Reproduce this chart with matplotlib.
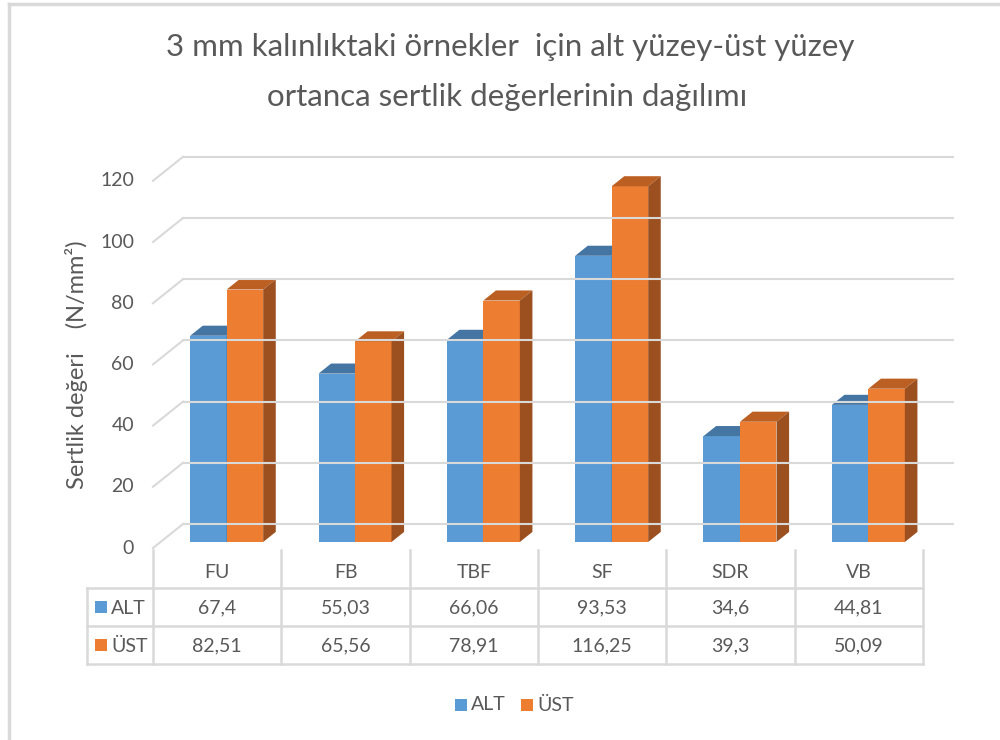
import matplotlib.pyplot as plt
from matplotlib.patches import Polygon, Rectangle
from matplotlib.lines import Line2D

plt.rcParams["font.family"] = ["Lato", "DejaVu Sans"]

# ── Data ──────────────────────────────────────────────────────────────────────
categories = ["FU", "FB", "TBF", "SF", "SDR", "VB"]
alt_values = [67.4, 55.03, 66.06, 93.53, 34.6, 44.81]
ust_values = [82.51, 65.56, 78.91, 116.25, 39.3, 50.09]
alt_labels = ["67,4", "55,03", "66,06", "93,53", "34,6", "44,81"]
ust_labels = ["82,51", "65,56", "78,91", "116,25", "39,3", "50,09"]
series_names = ["ALT", "ÜST"]
y_ticks = [0, 20, 40, 60, 80, 100, 120]

TEXT = "#595959"
GRID = "#d9d9d9"
BLUE = ("#5b9bd5", "#4575a3", "#3e6b96")     # front, top, side
ORANGE = ("#ed7d31", "#bb5f22", "#9c5020")
FS = 14

# ── Figure / axes (pixel-ish layout for 1000x740 @ 100 dpi) ──────────────────
W, H = 1000, 740
fig = plt.figure(figsize=(W / 100, H / 100), dpi=100, facecolor="white")

ax_left, ax_right = 153, 923          # front plane, px
ax_bottom, ax_top = 548, 140          # value 0 at 548 px
px_per_unit = 3.06
ymax = (ax_bottom - ax_top) / px_per_unit
ax = fig.add_axes([ax_left / W, 1 - ax_bottom / H,
                   (ax_right - ax_left) / W, (ax_bottom - ax_top) / H])
ax.set_xlim(-0.5, len(categories) - 0.5)
ax.set_ylim(0, ymax)
ax.axis("off")

col_w = (ax_right - ax_left) / len(categories)
DX = 30 / col_w                 # full depth offset, category units
DY = 24 / px_per_unit           # full depth offset, value units

# gridlines: floor diagonal + back wall line, tick labels on the front edge
for v in y_ticks:
    ax.add_line(Line2D([-0.5, -0.5 + DX], [v, v + DY], color=GRID, lw=1.5,
                       clip_on=False))
    ax.add_line(Line2D([-0.5 + DX, len(categories) - 0.5 + DX], [v + DY, v + DY],
                       color=GRID, lw=1.5, clip_on=False))
    ax.text(-0.5 - 19 / col_w, v, str(v), ha="right", va="center",
            fontsize=FS, color=TEXT)


def bar3d(x0, width, value, colors, d0=0.25, d1=0.67):
    ox, oy = d0 * DX, d0 * DY
    bx, by = (d1 - d0) * DX, (d1 - d0) * DY
    xa, xb = x0 + ox, x0 + width + ox
    ya, yb = oy, value + oy
    front = Polygon([(xa, ya), (xb, ya), (xb, yb), (xa, yb)], closed=True,
                    fc=colors[0], ec="none", clip_on=False)
    top = Polygon([(xa, yb), (xb, yb), (xb + bx, yb + by), (xa + bx, yb + by)],
                  closed=True, fc=colors[1], ec="none", clip_on=False)
    side = Polygon([(xb, ya), (xb + bx, ya + by), (xb + bx, yb + by), (xb, yb)],
                   closed=True, fc=colors[2], ec="none", clip_on=False)
    for p in (front, top, side):
        ax.add_patch(p)


bw = 36.5 / col_w
for i in range(len(categories)):
    bar3d(i - bw + 2 / col_w, bw, alt_values[i], BLUE)
    bar3d(i + 2 / col_w, bw, ust_values[i], ORANGE)

# ── Data table (figure pixel coordinates) ────────────────────────────────────
def fx(px):
    return px / W


def fy(py):
    return 1 - py / H


def hline(x0, x1, y):
    fig.add_artist(Line2D([fx(x0), fx(x1)], [fy(y), fy(y)], color=GRID, lw=1.8))


def vline(x, y0, y1):
    fig.add_artist(Line2D([fx(x), fx(x)], [fy(y0), fy(y1)], color=GRID, lw=1.8))


tbl_left = 87
row_y = [550, 588, 626, 664]
for y in row_y[1:]:
    hline(tbl_left, ax_right, y)
vline(tbl_left, row_y[1], row_y[3])
for i in range(len(categories) + 1):
    vline(ax_left + i * col_w, row_y[0], row_y[3])

for i, cat in enumerate(categories):
    cx = fx(ax_left + (i + 0.5) * col_w)
    fig.text(cx, fy(572), cat, ha="center", va="center", fontsize=FS, color=TEXT)
    fig.text(cx, fy(608), alt_labels[i], ha="center", va="center", fontsize=FS,
             color=TEXT)
    fig.text(cx, fy(646), ust_labels[i], ha="center", va="center", fontsize=FS,
             color=TEXT)

for name, col, yc in zip(series_names, (BLUE[0], ORANGE[0]), (607, 645)):
    fig.add_artist(Rectangle((fx(95), fy(yc + 6)), 12 / W, 12 / H,
                             fc=col, ec="none"))
    fig.text(fx(111), fy(yc + 1), name, ha="left", va="center", fontsize=FS,
             color=TEXT)

# ── Legend ───────────────────────────────────────────────────────────────────
for name, col, x in zip(series_names, (BLUE[0], ORANGE[0]), (455, 521)):
    fig.add_artist(Rectangle((fx(x), fy(711)), 12 / W, 12 / H, fc=col, ec="none"))
    fig.text(fx(x + 16), fy(705), name, ha="left", va="center", fontsize=FS,
             color=TEXT)

# ── Titles ───────────────────────────────────────────────────────────────────
fig.text(fx(510), fy(47), "3 mm kalınlıktaki örnekler  için alt yüzey-üst yüzey",
         ha="center", va="center", fontsize=22.5, color=TEXT)
fig.text(fx(507), fy(97), "ortanca sertlik değerlerinin dağılımı",
         ha="center", va="center", fontsize=22.5, color=TEXT)
fig.text(fx(77), fy(365), "Sertlik değeri    (N/mm²)", rotation=90,
         ha="center", va="center", fontsize=17, color=TEXT)

# ── Outer chart border ───────────────────────────────────────────────────────
fig.add_artist(Line2D([fx(9), 1], [fy(4), fy(4)], color="#d9d9d9", lw=2.5))
fig.add_artist(Line2D([fx(9), fx(9)], [fy(4), 0], color="#d9d9d9", lw=2.5))

fig.savefig("out.png", dpi=100, facecolor="white")
